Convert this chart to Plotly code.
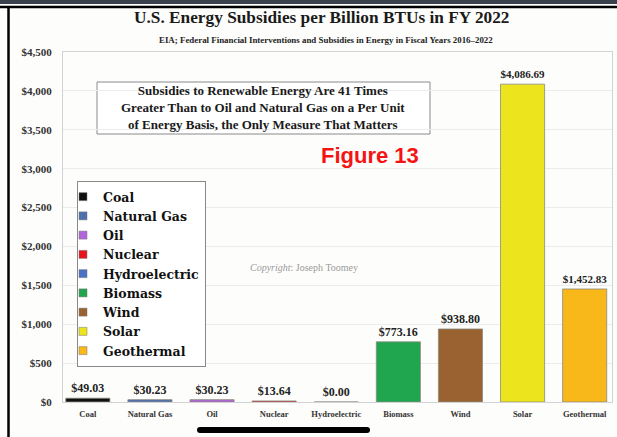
import plotly.graph_objects as go

# Subsidy per billion BTUs by energy source, FY 2022
sources = ["Coal", "Natural Gas", "Oil", "Nuclear", "Hydroelectric",
           "Biomass", "Wind", "Solar", "Geothermal"]
subsidies = [49.03, 30.23, 30.23, 13.64, 0.00, 773.16, 938.80, 4086.69, 1452.83]
bar_colors = ["#111111", "#4e6fae", "#b265d8", "#e8141b", "#4a72c4",
              "#1fa64f", "#9a6131", "#ece41c", "#f8b819"]
y_ticks = list(range(0, 4501, 500))
y_tick_text = [f"${v:,}" for v in y_ticks]

W, H = 617, 437
L, R, T, B = 63, 5, 52, 35
PW, PH = W - L - R, H - T - B


def px(x):
    return (x - L) / PW


def py(y):
    return (H - B - y) / PH


SERIF = "Liberation Serif"
fig = go.Figure()

for name, val, col in zip(sources, subsidies, bar_colors):
    fig.add_trace(go.Bar(
        x=[name], y=[val], name=name, width=0.71,
        marker=dict(color=col, line=dict(color="#8a8a80", width=0.8)),
        text=[f"${val:,.2f}"], textposition="outside",
        textfont=dict(family=SERIF, size=12, color="#222222", weight="bold"),
        cliponaxis=False, showlegend=False,
    ))
    # legend entry with a small square swatch
    fig.add_trace(go.Scatter(
        x=[None], y=[None], mode="markers", name=name,
        marker=dict(symbol="square", size=8, color=col,
                    line=dict(color="#777777", width=0.5)),
        showlegend=True,
    ))

fig.update_layout(
    width=W, height=H,
    margin=dict(l=L, r=R, t=T, b=B),
    paper_bgcolor="#fdfdfb", plot_bgcolor="#fdfdfb",
    barmode="overlay",
    showlegend=True,
    legend=dict(
        x=px(77), y=py(181), xanchor="left", yanchor="top",
        bgcolor="#ffffff", bordercolor="#888888", borderwidth=1,
        font=dict(family="DejaVu Serif", size=12.5, color="#111111", weight="bold"),
        itemwidth=30, indentation=-15, tracegroupgap=0,
        entrywidth=140, entrywidthmode="pixels",
    ),
    xaxis=dict(
        categoryorder="array", categoryarray=sources,
        range=[-0.4, 8.44],
        tickfont=dict(family=SERIF, size=8.5, color="#333333", weight="bold"),
        showline=True, linecolor="#d2d2d2", mirror=True,
        ticks="", ticklabelstandoff=4,
    ),
    yaxis=dict(
        range=[0, 4500], tickvals=y_ticks, ticktext=y_tick_text,
        tickfont=dict(family=SERIF, size=11, color="#333333", weight="bold"),
        showgrid=True, gridcolor="#ececec", gridwidth=1,
        showline=True, linecolor="#d2d2d2", mirror=True,
        zeroline=False, ticks="", ticklabelstandoff=8,
    ),
)

annotations = [
    dict(text="U.S. Energy Subsidies per Billion BTUs in FY 2022",
         x=px(321), y=py(18), font=dict(family=SERIF, size=17.3, color="#1a1a1a", weight="bold")),
    dict(text="EIA; Federal Financial Interventions and Subsidies in Energy in Fiscal Years 2016\u20132022",
         x=px(326), y=py(40), font=dict(family=SERIF, size=8.9, color="#222222", weight="bold")),
    dict(text="Subsidies to Renewable Energy Are 41 Times<br>"
              "Greater Than to Oil and Natural Gas on a Per Unit<br>"
              "of Energy Basis, the Only Measure That Matters",
         x=px(263), y=py(107), font=dict(family=SERIF, size=13, color="#1a1a1a", weight="bold")),
    dict(text="Figure 13", x=px(370), y=py(155),
         font=dict(family="Liberation Sans", size=22, color="#f41414", weight="bold")),
    dict(text="<i>Copyright</i>: Joseph Toomey", x=px(304), y=py(267),
         font=dict(family=SERIF, size=10, color="#9a9a9a")),
]
for a in annotations:
    a.update(xref="paper", yref="paper", showarrow=False,
             xanchor="center", yanchor="middle")
    fig.add_annotation(**a)

# callout box behind the headline text
fig.add_shape(type="rect", xref="paper", yref="paper", layer="below",
              x0=px(97), x1=px(430), y0=py(134), y1=py(82),
              fillcolor="#ffffff", line=dict(color="#8a8a8a", width=1))

# screen frame around the chart
shapes = [
    dict(type="rect", x0=px(0), x1=px(W), y0=py(0), y1=py(4),
         fillcolor="#38414c", line=dict(width=0)),
    dict(type="line", x0=px(0), x1=px(W), y0=py(7), y1=py(7),
         line=dict(color="#000000", width=2.5)),
    dict(type="line", x0=px(8.5), x1=px(8.5), y0=py(7), y1=py(H),
         line=dict(color="#000000", width=2.5)),
    dict(type="rect", x0=px(200), x1=px(367), y0=py(427), y1=py(433),
         fillcolor="#000000", line=dict(width=0)),
    dict(type="circle", x0=px(197), x1=px(203), y0=py(427), y1=py(433),
         fillcolor="#000000", line=dict(width=0)),
    dict(type="circle", x0=px(364), x1=px(370), y0=py(427), y1=py(433),
         fillcolor="#000000", line=dict(width=0)),
]
for s in shapes:
    s.update(xref="paper", yref="paper", layer="above")
    fig.add_shape(**s)

fig.write_html("out.html")
